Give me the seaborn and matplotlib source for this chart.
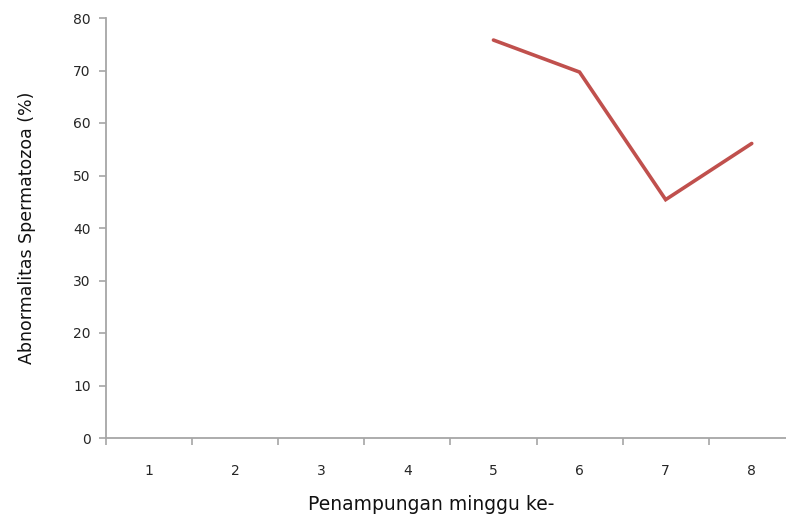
import numpy as np
import pandas as pd
import matplotlib
matplotlib.use("Agg")
import matplotlib.pyplot as plt
import seaborn as sns

# Weekly collection data: abnormal spermatozoa percentage
weeks = [1, 2, 3, 4, 5, 6, 7, 8]
week_labels = ["1", "2", "3", "4", "5", "6", "7", "8"]
abnormal_pct = [np.nan, np.nan, np.nan, np.nan, 75.8, 69.7, 45.4, 56.1]
y_ticks = [0, 10, 20, 30, 40, 50, 60, 70, 80]

df = pd.DataFrame({"minggu": weeks, "abnormalitas": abnormal_pct})

sns.set_style("white")
plt.rcParams["font.family"] = ["DejaVu Sans"]

fig = plt.figure(figsize=(7.86, 5.2), dpi=100)
ax = fig.add_axes([106 / 786, 82 / 520, 8 * 86.1 / 786, 420 / 520])

sns.lineplot(data=df, x="minggu", y="abnormalitas", ax=ax,
             color="#C0504D", linewidth=2.6, solid_joinstyle="miter")

axis_gray = "#A6A6A6"
ax.set_xlim(0.5, 8.5)
ax.set_ylim(0, 80)
for side in ("top", "right"):
    ax.spines[side].set_visible(False)
for side in ("left", "bottom"):
    ax.spines[side].set_color(axis_gray)
    ax.spines[side].set_linewidth(1.3)

ax.set_yticks(y_ticks)
ax.set_yticklabels([str(v) for v in y_ticks], fontsize=10, color="#262626")
ax.tick_params(axis="y", direction="out", length=5, width=1.2, color=axis_gray, pad=6, left=True)

# category boundaries carry the tick marks, labels sit at the centres
ax.set_xticks(np.arange(0.5, 8.6, 1.0))
ax.set_xticklabels([])
ax.tick_params(axis="x", which="major", direction="out", length=5, width=1.2, color=axis_gray, bottom=True)
ax.set_xticks(weeks, minor=True)
ax.set_xticklabels(week_labels, minor=True, fontsize=10, color="#262626")
ax.tick_params(axis="x", which="minor", length=0, pad=19)

ax.set_xlabel("Penampungan minggu ke-", fontsize=13.5, color="#111111")
ax.xaxis.set_label_coords(0.472, -0.135)
ax.set_ylabel("Abnormalitas Spermatozoa (%)", fontsize=12.5, color="#111111", labelpad=27)
ax.grid(False)

fig.savefig("out.png", dpi=100)
